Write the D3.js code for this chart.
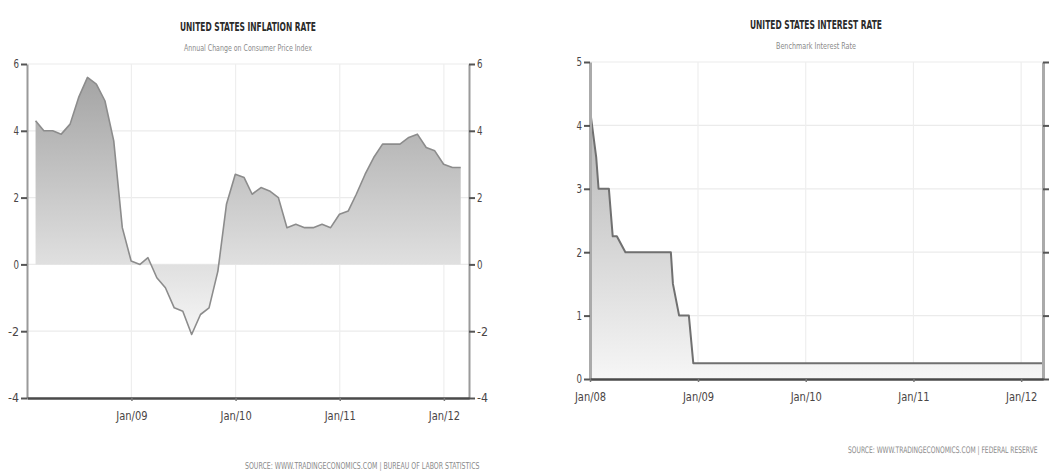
<!DOCTYPE html>
<html>
<head>
<meta charset="utf-8">
<script src="https://cdn.jsdelivr.net/npm/d3@7"></script>
<style>
  html, body { margin: 0; padding: 0; background: #fff; }
  svg { display: block; }
  text { font-family: "Liberation Sans Narrow", "DejaVu Sans Condensed", "Liberation Sans", sans-serif; }
</style>
</head>
<body>
<svg id="chart" width="1049" height="474"></svg>
<script>
// ---- Inflation: annual change in CPI (%), monthly Jan 2008 - Feb 2012 ----
const cpiMonths = d3.timeMonth.range(new Date(2008, 0, 1), new Date(2012, 2, 1));
const cpiValues = [
  4.3, 4.0, 4.0, 3.9, 4.2, 5.0, 5.6, 5.4, 4.9, 3.7, 1.1, 0.1,
  0.0, 0.2, -0.4, -0.7, -1.3, -1.4, -2.1, -1.5, -1.3, -0.2, 1.8, 2.7,
  2.6, 2.1, 2.3, 2.2, 2.0, 1.1, 1.2, 1.1, 1.1, 1.2, 1.1, 1.5,
  1.6, 2.1, 2.7, 3.2, 3.6, 3.6, 3.6, 3.8, 3.9, 3.5, 3.4, 3.0,
  2.9, 2.9
];
const cpiTicks = [-4, -2, 0, 2, 4, 6];
const cpiYears = ["2009-01-01", "2010-01-01", "2011-01-01", "2012-01-01"];

// ---- Benchmark interest rate (%) ----
const rateDates = [
  "2008-01-01", "2008-01-22", "2008-01-30", "2008-03-05", "2008-03-18",
  "2008-04-01", "2008-04-30", "2008-10-01", "2008-10-08", "2008-10-29",
  "2008-12-01", "2008-12-16", "2012-03-15"
];
const rateValues = [4.25, 3.5, 3.0, 3.0, 2.25, 2.25, 2.0, 2.0, 1.5, 1.0, 1.0, 0.25, 0.25];
const rateTicks = [0, 1, 2, 3, 4, 5];
const rateYears = ["2008-01-01", "2009-01-01", "2010-01-01", "2011-01-01", "2012-01-01"];

const parse = d3.timeParse("%Y-%m-%d");
const fmtTick = d3.timeFormat("%b/%y");
const fmtValue = d => String(d);   // plain hyphen for negatives

const svg = d3.select("#chart");
const defs = svg.append("defs");

function gradient(id, top, bottom) {
  const g = defs.append("linearGradient").attr("id", id)
    .attr("x1", 0).attr("y1", 0).attr("x2", 0).attr("y2", 1);
  g.append("stop").attr("offset", "0%").attr("stop-color", top);
  g.append("stop").attr("offset", "100%").attr("stop-color", bottom);
}
gradient("fillInfl", "#a4a4a4", "#f6f6f6");
gradient("fillRate", "#b4b4b4", "#f6f6f6");

// squeeze tick labels into a narrow, condensed look
function condense(sel, perChar) {
  sel.each(function () {
    const t = d3.select(this);
    t.attr("textLength", t.text().length * perChar).attr("lengthAdjust", "spacingAndGlyphs");
  });
}

// place a text at (x, y) and scale it horizontally to a given width
function fittedText(parent, x, y, width, anchor, str) {
  const t = parent.append("text").attr("x", 0).attr("y", 0).text(str);
  return { node: t, place() {
    const w = t.node().getComputedTextLength();
    const sx = width / w;
    const dx = anchor === "middle" ? -width / 2 : 0;
    t.attr("transform", `translate(${x + dx},${y}) scale(${sx},1)`);
    return t;
  } };
}

function panel(cfg) {
  const g = svg.append("g");
  const x = d3.scaleTime().domain(cfg.xDomain).range([cfg.left, cfg.right]);
  const y = d3.scaleLinear().domain(cfg.yDomain).range([cfg.bottom, cfg.top]);
  const years = cfg.years.map(parse);

  // grid
  g.append("g").selectAll("line").data(cfg.yTicks).join("line")
    .attr("x1", cfg.left).attr("x2", cfg.right)
    .attr("y1", d => y(d)).attr("y2", d => y(d))
    .attr("stroke", "#ebebeb").attr("stroke-width", 1.2);
  g.append("g").selectAll("line").data(years).join("line")
    .attr("x1", d => x(d)).attr("x2", d => x(d))
    .attr("y1", cfg.top).attr("y2", cfg.bottom)
    .attr("stroke", "#eeeeee").attr("stroke-width", 1.2);

  // area + line
  const area = d3.area().x(d => x(d.date)).y0(y(0)).y1(d => y(d.value));
  const line = d3.line().x(d => x(d.date)).y(d => y(d.value));
  g.append("path").datum(cfg.data).attr("d", area).attr("fill", cfg.fill);
  g.append("path").datum(cfg.data).attr("d", line)
    .attr("fill", "none").attr("stroke", cfg.lineColor)
    .attr("stroke-width", cfg.lineWidth).attr("stroke-linejoin", "round");

  // axes
  const styleAxis = (sel, domainColor, domainWidth) => {
    sel.select(".domain").attr("stroke", domainColor).attr("stroke-width", domainWidth);
    sel.selectAll(".tick line").attr("stroke", "#555").attr("stroke-width", 2);
    sel.selectAll(".tick text").attr("fill", "#4a4545").style("font-size", "12px");
  };
  const yl = g.append("g").attr("transform", `translate(${cfg.left},0)`)
    .call(d3.axisLeft(y).tickValues(cfg.yTicks).tickFormat(fmtValue)
      .tickSize(6).tickSizeOuter(0).tickPadding(2));
  styleAxis(yl, cfg.sideColor, cfg.sideWidth);
  condense(yl.selectAll(".tick text"), 5.5);

  const yr = g.append("g").attr("transform", `translate(${cfg.right},0)`)
    .call(d3.axisRight(y).tickValues(cfg.yTicks)
      .tickFormat(cfg.rightLabels ? fmtValue : "")
      .tickSize(6).tickSizeOuter(0).tickPadding(2));
  styleAxis(yr, cfg.sideColor, cfg.sideWidth);
  condense(yr.selectAll(".tick text"), 5.5);

  const xb = g.append("g").attr("transform", `translate(0,${cfg.bottom})`)
    .call(d3.axisBottom(x).tickValues(years).tickFormat(fmtTick)
      .tickSize(3).tickSizeOuter(0).tickPadding(10));
  styleAxis(xb, "#4a4a4a", 2.6);
  xb.selectAll(".tick text").style("font-size", "13px");
  condense(xb.selectAll(".tick text"), 5.2);
  xb.selectAll(".tick line").attr("stroke", "#777").attr("stroke-width", 1.5);

  // titles
  const cx = cfg.titleX;
  g.append("text").attr("x", cx).attr("y", cfg.titleY).attr("text-anchor", "middle")
    .attr("font-weight", "bold").attr("fill", "#2a2a2a").style("font-size", "13px")
    .attr("textLength", cfg.titleLen).attr("lengthAdjust", "spacingAndGlyphs")
    .text(cfg.title);
  g.append("text").attr("x", cx).attr("y", cfg.titleY + 20).attr("text-anchor", "middle")
    .attr("fill", "#8a8a8a").style("font-size", "9px")
    .attr("textLength", cfg.subLen).attr("lengthAdjust", "spacingAndGlyphs")
    .text(cfg.subtitle);
  const src = fittedText(g, cfg.srcX, cfg.srcY, cfg.srcLen, "start", cfg.source);
  src.node.attr("fill", "#8a8a8a").style("font-size", "9px");
  src.place();
}

panel({
  data: cpiMonths.map((m, i) => ({ date: d3.timeDay.offset(d3.timeMonth.offset(m, 1), -1), value: cpiValues[i] })),
  xDomain: [new Date(2008, 0, 1), new Date(2012, 2, 29)],
  yDomain: [-4, 6], yTicks: cpiTicks, years: cpiYears, rightLabels: true,
  left: 27, right: 469, top: 64, bottom: 398,
  fill: "url(#fillInfl)", lineColor: "#8c8c8c", lineWidth: 1.6,
  sideColor: "#9a9a9a", sideWidth: 2,
  title: "UNITED STATES INFLATION RATE", titleX: 248, titleY: 31, titleLen: 136,
  subtitle: "Annual Change on Consumer Price Index", subLen: 128,
  source: "SOURCE: WWW.TRADINGECONOMICS.COM | BUREAU OF LABOR STATISTICS",
  srcX: 245, srcY: 469, srcLen: 235
});

panel({
  data: rateDates.map((d, i) => ({ date: parse(d), value: rateValues[i] })),
  xDomain: [new Date(2008, 0, 1), new Date(2012, 2, 15)],
  yDomain: [0, 5], yTicks: rateTicks, years: rateYears, rightLabels: false,
  left: 590, right: 1043, top: 62, bottom: 379,
  fill: "url(#fillRate)", lineColor: "#707070", lineWidth: 2,
  sideColor: "#aaaaaa", sideWidth: 3,
  title: "UNITED STATES INTEREST RATE", titleX: 816, titleY: 29, titleLen: 132,
  subtitle: "Benchmark Interest Rate", subLen: 80,
  source: "SOURCE: WWW.TRADINGECONOMICS.COM | FEDERAL RESERVE",
  srcX: 848, srcY: 453, srcLen: 190
});
</script>
</body>
</html>
